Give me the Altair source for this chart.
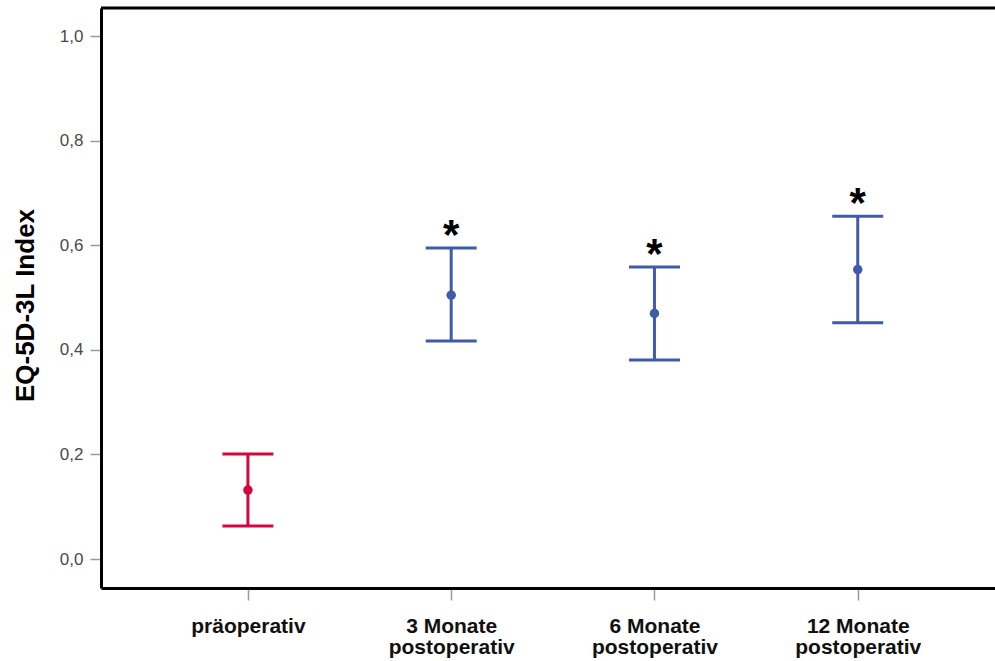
import altair as alt
import pandas as pd

# Messzeitpunkte (Zeilenumbruch mit "|")
zeitpunkte = ["präoperativ", "3 Monate|postoperativ", "6 Monate|postoperativ", "12 Monate|postoperativ"]
mittelwert = [0.132, 0.505, 0.470, 0.554]
ki_unten = [0.063, 0.417, 0.381, 0.452]
ki_oben = [0.201, 0.595, 0.559, 0.656]
signifikanz = ["", "*", "*", "*"]
farben = ["#D3063E", "#3F5BAA", "#3F5BAA", "#3F5BAA"]

df = pd.DataFrame({
    "zeitpunkt": zeitpunkte,
    "mittel": mittelwert,
    "unten": ki_unten,
    "oben": ki_oben,
    "sig": signifikanz,
})

W, H = 894, 580

x = alt.X(
    "zeitpunkt:N",
    sort=zeitpunkte,
    title=None,
    scale=alt.Scale(type="point", domain=zeitpunkte, padding=0.699, align=0.517),
    axis=alt.Axis(
        labelExpr="split(datum.label, '|')",
        labelAngle=0,
        labelFont="Liberation Sans",
        labelFontWeight="bold",
        labelFontSize=21,
        labelColor="#111111",
        labelLineHeight=21,
        labelPadding=15,
        labelBaseline="top",
        tickColor="#9a9a9a",
        tickSize=12,
        tickWidth=1.5,
        domainColor="#000000",
        domainWidth=3,
        grid=False,
    ),
)

y_scale = alt.Scale(domain=[-0.0555, 1.0545], nice=False, zero=False)
y = alt.Y(
    "mittel:Q",
    scale=y_scale,
    title="EQ-5D-3L Index",
    axis=alt.Axis(
        values=[0, 0.2, 0.4, 0.6, 0.8, 1.0],
        labelExpr="replace(format(datum.value, '.1f'), '.', ',')",
        labelFont="Liberation Sans",
        labelFontSize=17,
        labelColor="#4a4a4a",
        labelPadding=7,
        tickColor="#9a9a9a",
        tickSize=11,
        tickWidth=1.5,
        domainColor="#000000",
        domainWidth=3,
        grid=False,
        titleFont="Liberation Sans",
        titleFontWeight="bold",
        titleFontSize=26,
        titleColor="#000000",
        titleAngle=-90,
        titleX=-76,
        titleY=297,
        titleAlign="center",
        titleBaseline="middle",
    ),
)

color = alt.Color("zeitpunkt:N", scale=alt.Scale(domain=zeitpunkte, range=farben), legend=None)

base = alt.Chart(df)

stiel = base.mark_rule(strokeWidth=3, opacity=1).encode(
    x=x, y=alt.Y("unten:Q", scale=y_scale), y2="oben:Q", color=color
)
kappe_unten = base.mark_tick(size=51, thickness=3, opacity=1).encode(
    x=x, y=alt.Y("unten:Q", scale=y_scale), color=color
)
kappe_oben = base.mark_tick(size=51, thickness=3, opacity=1).encode(
    x=x, y=alt.Y("oben:Q", scale=y_scale), color=color
)
punkt = base.mark_point(filled=True, size=90, opacity=1).encode(x=x, y=y, color=color)
stern = base.mark_text(
    font="Liberation Sans", fontWeight="bold", fontSize=42, color="#000000",
    baseline="alphabetic", dy=1,
).encode(x=x, y=alt.Y("oben:Q", scale=y_scale), text="sig:N")

# obere Rahmenlinie
rahmen_oben = alt.Chart(pd.DataFrame({"r": [0]})).mark_rule(
    color="#000000", strokeWidth=3
).encode(x=alt.value(0), x2=alt.value(W + 5), y=alt.value(0))

chart = (
    alt.layer(stiel, kappe_unten, kappe_oben, punkt, stern, rahmen_oben)
    .properties(
        width=W,
        height=H,
        autosize=alt.AutoSizeParams(type="none"),
        padding={"left": 101, "top": 8, "right": 0, "bottom": 73},
    )
    .configure_view(stroke=None)
    .configure(background="#ffffff")
)

chart.save("out.html", embed_options={"renderer": "svg", "actions": False})
